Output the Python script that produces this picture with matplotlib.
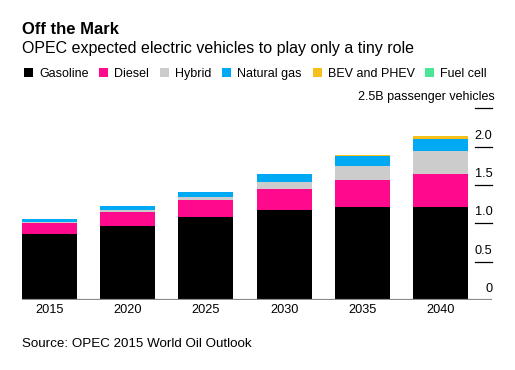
import matplotlib
matplotlib.use("Agg")
import matplotlib.pyplot as plt
from matplotlib.patches import Rectangle
import matplotlib.transforms as mtransforms

plt.rcParams['font.family'] = ['Liberation Sans', 'DejaVu Sans']

years = ["2015", "2020", "2025", "2030", "2035", "2040"]
gasoline = [0.857, 0.961, 1.078, 1.169, 1.208, 1.208]
diesel = [0.147, 0.182, 0.221, 0.286, 0.363, 0.441]
hybrid = [0.013, 0.026, 0.052, 0.090, 0.182, 0.299]
natural_gas = [0.039, 0.052, 0.065, 0.096, 0.121, 0.156]
bev_phev = [0.0, 0.0, 0.0, 0.002, 0.013, 0.039]
fuel_cell = [0.0, 0.0, 0.0, 0.0, 0.0, 0.0]

series_names = ["Gasoline", "Diesel", "Hybrid", "Natural gas", "BEV and PHEV", "Fuel cell"]
series_vals = [gasoline, diesel, hybrid, natural_gas, bev_phev, fuel_cell]
colors = ["#000000", "#ff0a8c", "#cccccc", "#00a9f4", "#f7bf19", "#4be596"]
y_ticks = [0, 0.5, 1.0, 1.5, 2.0]
y_tick_labels = ["0", "0.5", "1.0", "1.5", "2.0"]
unit_label = "2.5B passenger vehicles"

W, H = 515, 370
fig = plt.figure(figsize=(W / 100, H / 100), dpi=100)

def fx(x):
    return x / W

def fy(y):
    return 1 - y / H

ax_left, ax_right, ax_bottom, ax_top = 22, 492, 300, 108.5
ax = fig.add_axes([fx(ax_left), fy(ax_bottom), fx(ax_right - ax_left), (ax_bottom - ax_top) / H])
ax.set_ylim(0, 2.5)
spacing = 78.2
bw = 55 / spacing
xl = -bw / 2
ax.set_xlim(xl, xl + (ax_right - ax_left) / spacing)

xs = list(range(len(years)))
bottoms = [0.0] * len(years)
for vals, c in zip(series_vals, colors):
    ax.bar(xs, vals, width=bw, bottom=bottoms, color=c, linewidth=0, zorder=2)
    bottoms = [b + v for b, v in zip(bottoms, vals)]

for s in ax.spines.values():
    s.set_visible(False)
ax.set_xticks([])
ax.set_yticks([])
ax.patch.set_alpha(0)

# baseline
ax.axhline(0, color="#8c8c8c", linewidth=1.6, zorder=3)

# right-side ticks with labels above
trans = mtransforms.blended_transform_factory(ax.transAxes, ax.transData)
tick_x0 = (475 - ax_left) / (ax_right - ax_left)
for v, lab in zip(y_ticks + [2.5], y_tick_labels + [None]):
    if v > 0:
        ax.plot([tick_x0, 1.0], [v, v], transform=trans, color="black", linewidth=0.9, clip_on=False)
    if lab is not None:
        off = mtransforms.offset_copy(trans, fig=fig, x=0.5 / 100 * 72, y=8 / 100 * 72, units="points")
        ax.text(1.0, v, lab, transform=off, ha="right", va="baseline", fontsize=9.2, color="black")

# x labels
for x, yr in zip(xs, years):
    ax.text(x, 0, yr, transform=mtransforms.offset_copy(ax.transData, fig=fig, y=-13.3 / 100 * 72, units="points"),
            ha="center", va="baseline", fontsize=9.2, color="black")

# titles
fig.text(fx(22), fy(34), "Off the Mark", fontsize=12, fontweight="bold", ha="left", va="baseline")
fig.text(fx(22), fy(53.3), "OPEC expected electric vehicles to play only a tiny role", fontsize=11.5,
         ha="left", va="baseline")
fig.text(fx(495), fy(100), unit_label, fontsize=9, ha="right", va="baseline")
fig.text(fx(22), fy(346.7), "Source: OPEC 2015 World Oil Outlook", fontsize=9.6, ha="left", va="baseline")

# legend: square, 6px gap, label; items spread evenly between x=24 and x=487
renderer = fig.canvas.get_renderer()
sq = 9
gap_in = 6
texts = [fig.text(0, 0, n, fontsize=9) for n in series_names]
widths = [t.get_window_extent(renderer).width for t in texts]
for t in texts:
    t.remove()
leg_start, leg_end = 24, 487
total = sum(sq + gap_in + w for w in widths)
gap_out = (leg_end - leg_start - total) / (len(series_names) - 1)
x = leg_start
for name, c, w in zip(series_names, colors, widths):
    fig.patches.append(Rectangle((fx(x), fy(76.7)), sq / W, sq / H, transform=fig.transFigure,
                                 facecolor=c, edgecolor="none"))
    fig.text(fx(x + sq + gap_in), fy(76.7), name, fontsize=9, ha="left", va="baseline")
    x += sq + gap_in + w + gap_out

fig.savefig("out.png", dpi=100)
